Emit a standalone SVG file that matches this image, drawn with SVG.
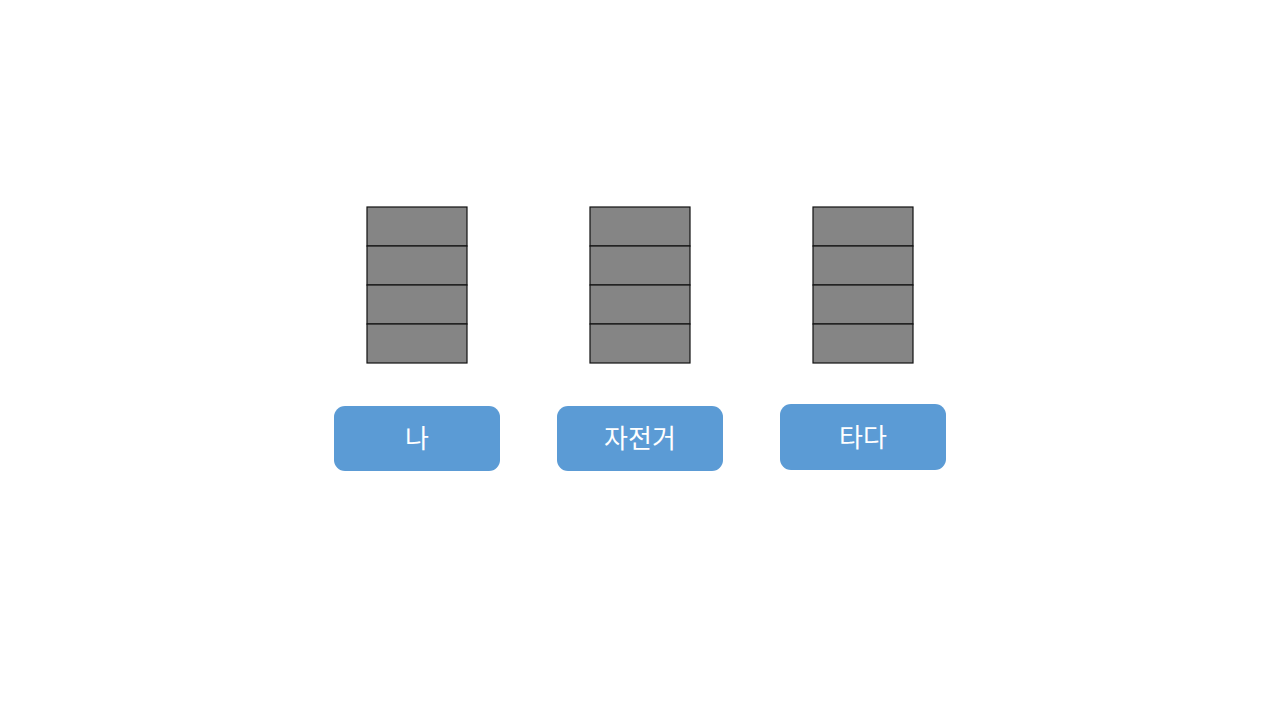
<svg xmlns="http://www.w3.org/2000/svg" width="1280" height="720" viewBox="0 0 1280 720">
<style>
.cell{fill:#858585;stroke:#111;stroke-width:1.2}
.btn{fill:#5B9BD5}
.lbl{fill:#fff;font-family:"Noto Sans CJK KR","Noto Sans",sans-serif;font-size:26px;text-anchor:middle;dominant-baseline:central}
</style>
<rect width="1280" height="720" fill="#fff"/>
<g id="stack1">
<rect class="cell" x="367" y="207" width="100" height="39"/>
<rect class="cell" x="367" y="246" width="100" height="39"/>
<rect class="cell" x="367" y="285" width="100" height="39"/>
<rect class="cell" x="367" y="324" width="100" height="39"/>
</g>
<g id="stack2">
<rect class="cell" x="590" y="207" width="100" height="39"/>
<rect class="cell" x="590" y="246" width="100" height="39"/>
<rect class="cell" x="590" y="285" width="100" height="39"/>
<rect class="cell" x="590" y="324" width="100" height="39"/>
</g>
<g id="stack3">
<rect class="cell" x="813" y="207" width="100" height="39"/>
<rect class="cell" x="813" y="246" width="100" height="39"/>
<rect class="cell" x="813" y="285" width="100" height="39"/>
<rect class="cell" x="813" y="324" width="100" height="39"/>
</g>
<g id="btn1">
<rect class="btn" x="334" y="406" width="166" height="65" rx="11"/>
<text class="lbl" x="417" y="436">나</text>
</g>
<g id="btn2">
<rect class="btn" x="557" y="406" width="166" height="65" rx="11"/>
<text class="lbl" x="640" y="436">자전거</text>
</g>
<g id="btn3">
<rect class="btn" x="780" y="404" width="166" height="66" rx="11"/>
<text class="lbl" x="863" y="435">타다</text>
</g>
<g id="connectors"></g>
</svg>
